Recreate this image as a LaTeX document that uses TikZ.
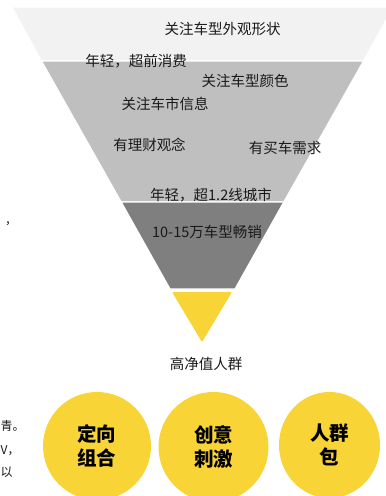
\documentclass[tikz,border=0pt]{standalone}
\usepackage{fontspec}
\usetikzlibrary{shapes.geometric}
\setmainfont{Noto Sans CJK SC}
\definecolor{band1}{HTML}{F2F2F2}
\definecolor{band2}{HTML}{BFBFBF}
\definecolor{band3}{HTML}{7F7F7F}
\definecolor{ylw}{HTML}{F8D436}
\definecolor{txt}{HTML}{1A1A1A}
\tikzset{
  bandshape/.style={draw=white,line width=1.2pt,line join=round},
  lbl/.style={inner sep=0pt,text=txt,font=\fontsize{14.5}{17}\selectfont},
  frag/.style={inner sep=0pt,text=txt,font=\fontsize{12}{15}\selectfont},
  bubble/.style={circle,fill=ylw,inner sep=0pt,align=center,text=black,
    font=\fontsize{19.5}{24}\selectfont\bfseries}
}
\begin{document}
\begin{tikzpicture}[x=1pt,y=-1pt]
\useasboundingbox (0,0) rectangle (386,496);
\clip (0,0) rectangle (386,496);
\fill[white] (0,0) rectangle (386,496);
% funnel bands
\draw[bandshape,fill=band1] (11.8,7) -- (393.2,7) -- (363.5,61) -- (41.5,61) -- cycle;
\draw[bandshape,fill=band2] (41.5,61) -- (363.5,61) -- (283.8,202) -- (121.2,202) -- cycle;
\draw[bandshape,fill=band3] (121.2,202) -- (283.8,202) -- (235,289) -- (170,289) -- cycle;
\fill[ylw,rounded corners=1pt] (172,292) -- (232,292) -- (202,342) -- cycle;
% labels
\node[lbl] (t1) at (222.5,29) {关注车型外观形状};
\node[lbl] (t2) at (136,61) {年轻，超前消费};
\node[lbl] (t3) at (245,81) {关注车型颜色};
\node[lbl] (t4) at (165,104) {关注车市信息};
\node[lbl] (t5) at (149.5,145) {有理财观念};
\node[lbl] (t6) at (285,148) {有买车需求};
\node[lbl] (t7) at (211,195) {年轻，超1.2线城市};
\node[lbl] (t8) at (207,232) {10-15万车型畅销};
\node[lbl] (t9) at (206,364) {高净值人群};
% fragments at the left edge
\node[frag,anchor=west] (f0) at (5,224) {，};
\node[frag,anchor=west] (f1) at (0.5,426) {青。};
\node[frag,anchor=west] (f2) at (0.5,451) {V，};
\node[frag,anchor=west] (f3) at (0.5,472) {以};
% circles
\node[bubble,minimum size=108pt] (c1) at (97,446) {定向\\组合};
\node[bubble,minimum size=110pt] (c2) at (213.5,447) {创意\\刺激};
\node[bubble,ellipse,minimum width=101pt,minimum height=106pt] (c3) at (329.5,445) {人群\\包};
\end{tikzpicture}
\end{document}
